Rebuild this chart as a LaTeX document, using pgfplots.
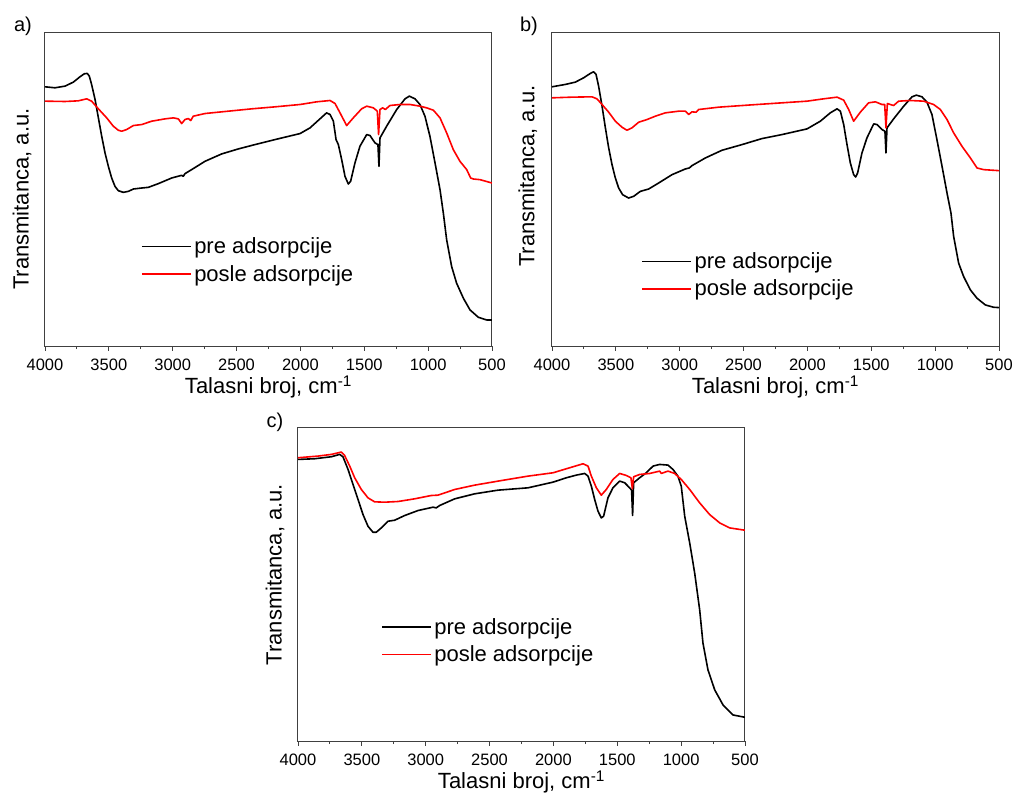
\documentclass[border=0pt]{standalone}
\usepackage{fontspec}
\setmainfont{Liberation Sans}
\usepackage{pgfplots}
\usepackage{pgfplotstable}
\pgfplotsset{compat=1.18}

\pgfplotstableread{
x y
4000 776
3922 773
3843 778
3778 790
3726 806
3692 815
3669 816
3653 808
3635 783
3608 738
3582 683
3556 628
3530 578
3504 538
3478 503
3452 478
3426 465
3387 460
3347 463
3308 470
3243 473
3191 475
3113 486
3008 503
2930 511
2917 508
2904 516
2852 528
2747 553
2617 575
2486 590
2356 603
2199 618
2003 636
1925 653
1847 680
1795 698
1768 693
1742 673
1721 618
1703 603
1677 558
1651 508
1625 485
1607 493
1573 548
1534 598
1481 633
1455 630
1416 608
1393 603
1385 538
1377 623
1325 658
1246 708
1181 740
1147 748
1103 740
1064 723
1025 688
986 628
946 548
907 468
881 398
855 318
816 238
777 188
724 143
672 108
607 86
542 78
500 78
}\aBlack

\pgfplotstableread{
x y
4000 733
3843 732
3739 734
3674 740
3635 733
3582 710
3517 683
3465 658
3426 646
3400 643
3361 648
3308 660
3243 663
3165 673
3060 680
2995 683
2956 680
2930 666
2904 678
2878 681
2859 675
2839 688
2747 696
2565 703
2382 710
2199 716
2003 723
1873 731
1768 735
1729 726
1690 698
1638 660
1586 683
1521 710
1481 718
1429 713
1398 703
1388 633
1377 708
1356 713
1335 708
1299 720
1220 723
1142 723
1064 718
1012 713
959 706
907 683
855 638
803 588
751 553
698 528
667 503
646 500
594 498
500 488
}\aRed

\pgfplotstableread{
x y
4000 776
3896 783
3817 790
3752 803
3700 816
3674 821
3655 813
3635 778
3608 718
3582 653
3556 593
3530 543
3504 503
3478 473
3447 453
3400 443
3361 448
3308 463
3243 470
3165 488
3060 513
2956 530
2925 533
2904 540
2799 563
2669 586
2512 603
2356 621
2199 633
2003 650
1899 673
1821 698
1768 710
1742 703
1716 663
1690 603
1664 548
1638 513
1622 506
1607 518
1573 578
1534 623
1481 665
1455 663
1416 648
1393 643
1385 578
1377 653
1325 680
1246 718
1181 746
1147 751
1103 746
1064 730
1025 693
986 618
946 538
907 458
876 398
855 328
816 248
777 208
724 168
672 143
607 123
542 116
500 115
}\bBlack

\pgfplotstableread{
x y
4000 743
3843 745
3687 746
3648 740
3608 723
3556 700
3504 673
3452 655
3413 646
3374 653
3321 670
3256 678
3191 688
3113 698
3008 703
2956 703
2930 693
2904 701
2872 700
2852 708
2695 715
2434 722
2199 728
2003 733
1873 740
1768 745
1716 736
1677 708
1638 673
1586 700
1521 728
1468 731
1416 723
1395 723
1385 653
1374 726
1351 723
1325 720
1286 733
1194 735
1090 733
1012 723
959 708
907 678
855 638
790 598
724 563
672 533
620 528
500 525
}\bRed

\pgfplotstableread{
x y
4000 843
3870 845
3739 851
3674 858
3648 851
3608 813
3569 768
3530 723
3491 678
3452 643
3413 625
3387 625
3348 638
3295 658
3243 661
3165 675
3060 690
2943 700
2917 698
2891 705
2773 725
2617 740
2434 751
2199 758
2003 775
1899 788
1821 796
1755 801
1729 793
1703 763
1677 723
1651 688
1625 668
1607 673
1573 728
1534 758
1481 778
1442 773
1403 758
1388 751
1380 675
1372 773
1325 788
1273 803
1220 823
1168 828
1103 826
1064 813
1025 793
999 763
972 673
933 593
894 503
855 393
829 293
790 213
737 153
672 108
594 78
500 71
}\cBlack

\pgfplotstableread{
x y
4000 848
3843 853
3739 858
3661 865
3635 855
3595 823
3556 788
3504 753
3452 728
3400 716
3321 715
3217 717
3087 725
2956 735
2904 736
2773 753
2617 766
2434 778
2199 793
2003 803
1873 818
1768 830
1729 823
1703 793
1664 758
1625 736
1586 753
1534 783
1481 801
1429 795
1393 788
1382 755
1372 791
1325 798
1246 801
1168 808
1155 801
1103 808
1051 801
999 783
933 753
855 713
777 678
698 653
620 638
500 631
}\cRed

\pgfplotsset{
  ftir/.style={
    scale only axis,
    width=447pt, height=314pt,
    anchor=south west,
    xmin=500, xmax=4000, x dir=reverse,
    ymin=0, ymax=940,
    xtick={500,1000,...,4000},
    minor x tick num=1,
    ytick=\empty,
    xtick pos=bottom,
    tick align=outside,
    major tick length=4.5pt,
    minor tick length=3pt,
    axis line style={line width=1pt, draw=black!75},
    every tick/.style={line width=0.9pt, black!75},
    /pgf/number format/assume math mode=true,
    /pgf/number format/1000 sep={},
    ticklabel style={font=\fontsize{16.5}{19}\selectfont},
    xticklabel style={yshift=-5pt},
    label style={font=\fontsize{22}{26}\selectfont},
    xlabel={Talasni broj, cm\textsuperscript{-1}},
    ylabel={Transmitanca, a.u.},
    xlabel style={at={(axis description cs:0.5,-0.13)}, anchor=center},
    legend style={draw=none, fill=none, anchor=west,
      font=\fontsize{22}{26}\selectfont, row sep=5pt,
      nodes={inner sep=2.5pt}},
    legend cell align=left,
    legend image code/.code={\draw[#1, line width=1.6pt] (0pt,0pt) -- (49pt,0pt);},
  },
  blk/.style={black, line width=1.6pt, line join=round},
  rd/.style={red, line width=1.6pt, line join=round},
}

\begin{document}
\begin{tikzpicture}
\useasboundingbox (0pt,0pt) rectangle (1015pt,-796pt);

\begin{axis}[ftir, at={(45pt,-346pt)},
  ylabel style={at={(axis description cs:-0.0515,0.468)}, anchor=center},
  legend style={at={(axis description cs:0.208,0.2735)}}]
\addplot[blk] table {\aBlack};
\addplot[rd] table {\aRed};
\legend{pre adsorpcije, posle adsorpcije}
\end{axis}

\begin{axis}[ftir, at={(552pt,-346pt)},
  ylabel style={at={(axis description cs:-0.054,0.541)}, anchor=center},
  legend style={at={(axis description cs:0.193,0.226)}}]
\addplot[blk] table {\bBlack};
\addplot[rd] table {\bRed};
\legend{pre adsorpcije, posle adsorpcije}
\end{axis}

\begin{axis}[ftir, at={(298pt,-741pt)},
  ylabel style={at={(axis description cs:-0.0515,0.53)}, anchor=center},
  legend style={at={(axis description cs:0.179,0.319)}}]
\addplot[blk] table {\cBlack};
\addplot[rd] table {\cRed};
\legend{pre adsorpcije, posle adsorpcije}
\end{axis}

\node[font=\fontsize{20}{24}\selectfont] at (23pt,-26pt) {a)};
\node[font=\fontsize{20}{24}\selectfont] at (529pt,-26pt) {b)};
\node[font=\fontsize{20}{24}\selectfont] at (275pt,-422pt) {c)};
\end{tikzpicture}
\end{document}
